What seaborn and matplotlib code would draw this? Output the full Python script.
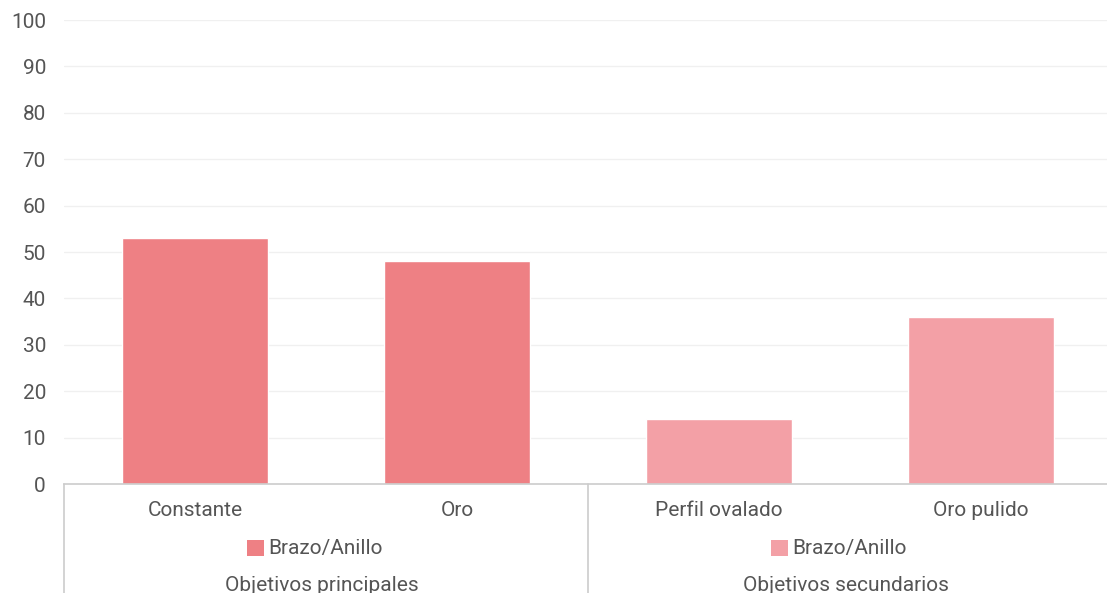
import matplotlib.pyplot as plt
import pandas as pd
import seaborn as sns
from matplotlib.patches import Rectangle

# Data
categorias = ['Constante', 'Oro', 'Perfil ovalado', 'Oro pulido']
valores = [53, 48, 14, 36]
grupos = ['Objetivos principales', 'Objetivos principales',
          'Objetivos secundarios', 'Objetivos secundarios']
serie = 'Brazo/Anillo'
colores = {'Objetivos principales': '#EE8084',
           'Objetivos secundarios': '#F3A0A6'}

df = pd.DataFrame({'categoria': categorias, 'valor': valores, 'grupo': grupos})

sns.set_style('white')
plt.rcParams['font.family'] = ['Roboto', 'DejaVu Sans']

fig = plt.figure(figsize=(11.07, 5.93), dpi=100)
ax = fig.add_axes([64 / 1107, 109 / 593, 1048 / 1107, 464 / 593])

sns.barplot(data=df, x='categoria', y='valor', hue='grupo', palette=colores,
            dodge=False, width=0.557, legend=False, ax=ax, saturation=1)

ax.set_xlim(-0.5, 3.5)
ax.set_ylim(0, 100)
ax.set_yticks(range(0, 101, 10))
ax.set_xlabel('')
ax.set_ylabel('')
ax.yaxis.grid(True, color='#f0f0f0', linewidth=1)
ax.set_axisbelow(True)
for s in ['top', 'right', 'left']:
    ax.spines[s].set_visible(False)
ax.spines['bottom'].set_color('#cccccc')
ax.spines['bottom'].set_linewidth(1.2)
ax.tick_params(axis='y', length=0, pad=13, labelsize=15, labelcolor='#555555')
ax.tick_params(axis='x', length=0, pad=12, labelsize=15, labelcolor='#555555')

# group separators below the axis
px = 262.0  # pixels per category
for xs in [-0.5, 1.5]:
    ax.plot([xs, xs], [0, -0.3], transform=ax.get_xaxis_transform(),
            color='#cccccc', linewidth=1.2, clip_on=False)

# per-group legend and group label
trans = ax.get_xaxis_transform()
for i, g in enumerate(['Objetivos principales', 'Objetivos secundarios']):
    centro = 0.5 + 2 * i
    ax.add_patch(Rectangle((centro - 79 / px, -0.155), 17 / px, 0.0345,
                           transform=trans, facecolor=colores[g],
                           edgecolor='none', clip_on=False))
    ax.text(centro - 58 / px, -0.139, serie, transform=trans, ha='left',
            va='center', fontsize=15, color='#555555')
    ax.text(centro - 4 / px, -0.219, g, transform=trans, ha='center',
            va='center', fontsize=15, color='#555555')

fig.savefig('out.png', dpi=100)
